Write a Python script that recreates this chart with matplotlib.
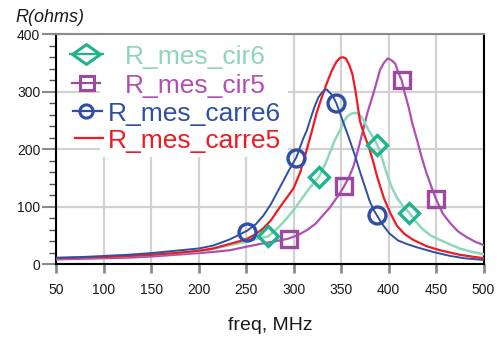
import matplotlib
matplotlib.use('Agg')
import matplotlib.pyplot as plt
from matplotlib.lines import Line2D
from matplotlib.patches import Rectangle
from matplotlib.path import Path
from matplotlib.ticker import MultipleLocator

plt.rcParams['font.family'] = ['Liberation Sans', 'DejaVu Sans']

# ---------------- data ----------------
carre6_f = [50, 75, 100, 125, 150, 175, 200, 215, 233, 251, 260, 268, 276, 286, 295, 303, 310, 314, 318, 322,
            326, 330, 333, 335, 337, 339, 342, 345, 352, 359, 365, 370, 375, 380, 384, 388, 394, 401, 410, 419,
            430, 447, 465, 480, 500]
carre6_v = [11, 12, 14, 16, 19, 23, 27, 32, 43, 58, 69, 84, 104, 135, 163, 186, 218, 233, 254, 274,
            290, 299, 303, 304, 300, 297, 290, 280, 248, 216, 187, 160, 135, 110, 95, 84, 68, 53, 41, 35,
            29, 21, 14, 10, 7]

carre5_f = [50, 75, 100, 125, 150, 175, 200, 215, 233, 250, 260, 268, 276, 286, 293, 300, 307, 314, 319, 324,
            330, 335, 340, 345, 349, 352, 355, 359, 362, 365, 370, 375, 379, 384, 388, 395, 402, 409, 417, 426,
            440, 454, 475, 500]
carre5_v = [10, 11, 12, 14, 16, 19, 23, 27, 35, 43, 52, 62, 76, 100, 116, 132, 160, 200, 230, 262,
            292, 315, 336, 352, 359, 360, 358, 345, 330, 303, 248, 222, 205, 177, 152, 115, 88, 66, 52, 42,
            31, 24, 16, 10]

cir6_f = [50, 75, 100, 125, 150, 175, 200, 215, 233, 250, 262, 273, 283, 291, 300, 307, 314, 320, 327, 333,
          338, 344, 349, 353, 356, 360, 363, 366, 370, 374, 377, 382, 388, 393, 398, 403, 409, 415, 422, 429,
          437, 445, 454, 465, 475, 488, 500]
cir6_v = [10, 11, 12, 14, 16, 19, 22, 26, 33, 39, 44, 48, 62, 76, 94, 110, 126, 139, 153, 173,
          193, 218, 233, 248, 256, 261, 263, 263, 259, 250, 239, 225, 208, 185, 158, 135, 115, 101, 89, 73,
          59, 49, 42, 34, 27, 21, 17]

cir5_f = [50, 75, 100, 125, 150, 175, 200, 215, 233, 250, 268, 282, 294, 304, 314, 323, 331, 338, 344, 349,
          353, 358, 363, 368, 373, 378, 384, 388, 391, 395, 399, 403, 407, 410, 414, 417, 421, 425, 430, 435,
          440, 445, 450, 457, 465, 473, 482, 491, 500]
cir5_v = [8, 9, 10, 11, 13, 16, 19, 21, 24, 30, 36, 40, 44, 50, 59, 70, 85, 98, 112, 124,
          135, 150, 170, 200, 232, 265, 297, 320, 338, 350, 358, 355, 349, 335, 319, 298, 274, 245, 216, 185,
          158, 135, 113, 88, 71, 57, 47, 39, 33]

# marker positions on the curves
carre6_mf = [251, 302, 345, 388]
carre6_mv = [56, 184, 280, 85]
cir5_mf = [295, 353, 414, 450]
cir5_mv = [43, 135, 320, 114]
cir6_mf = [273, 327, 388, 422]
cir6_mv = [48, 152, 208, 89]

names = ['R_mes_cir6', 'R_mes_cir5', 'R_mes_carre6', 'R_mes_carre5']
x_ticks = [50, 100, 150, 200, 250, 300, 350, 400, 450, 500]
y_ticks = [0, 100, 200, 300, 400]

# ---------------- style ----------------
teal_line, teal_mark, teal_text = '#8ed8b9', '#1db38d', '#8ed6b8'
mag_line, mag_mark, mag_text = '#b04fb3', '#9b4a9f', '#b14fb1'
blue = '#2f4fa5'
red = '#ef1b24'

W, H = 497, 338
fig = plt.figure(figsize=(W / 100, H / 100), dpi=100)
ax = fig.add_axes([56.3 / W, 1 - 264 / H, (483.5 - 56.3) / W, (264 - 34.3) / H])

# white box behind the legend (hides grid)
ax.add_patch(Rectangle((100 / W, 1 - 157 / H), (288 - 100) / W, (157 - 34) / H,
                       transform=fig.transFigure, facecolor='white', edgecolor='none', zorder=1))

ax.plot(cir5_f, cir5_v, color=mag_line, lw=1.6, zorder=3)
ax.plot(cir6_f, cir6_v, color=teal_line, lw=1.8, zorder=3)
ax.plot(carre5_f, carre5_v, color=red, lw=1.6, zorder=4)
ax.plot(carre6_f, carre6_v, color=blue, lw=1.4, zorder=5)

ax.plot(cir5_mf, cir5_mv, ls='none', marker='s', ms=11.5, mew=2.4, mfc='none', mec=mag_mark, zorder=6)
ax.plot(cir6_mf, cir6_mv, ls='none', marker='D', ms=10.5, mew=2.4, mfc='none', mec=teal_mark, zorder=6)
ax.plot(carre6_mf, carre6_mv, ls='none', marker='o', ms=12.2, mew=2.4, mfc='none', mec=blue, zorder=6)

ax.set_xlim(50, 500)
ax.set_ylim(0, 400)
ax.set_xticks(x_ticks)
ax.set_yticks(y_ticks)
ax.yaxis.set_minor_locator(MultipleLocator(20))
ax.grid(True, which='major', color='#d2d2d2', linewidth=1.6)
ax.set_axisbelow(True)

ax.tick_params(axis='x', which='major', direction='out', length=6.5, width=2, color='#8a8a8a',
               pad=7, labelsize=10, labelcolor='#1a1a1a')
ax.tick_params(axis='y', which='major', direction='out', length=10, width=1.5, color='#8a8a8a',
               pad=1.5, labelsize=10, labelcolor='#1a1a1a')
ax.tick_params(axis='y', which='minor', direction='out', length=5, width=1, color='#555555')

for s in ['left', 'bottom', 'right']:
    ax.spines[s].set_color('black')
    ax.spines[s].set_linewidth(1.5)
ax.spines['top'].set_color('#8c8c8c')
ax.spines['top'].set_linewidth(1.5)

# axis titles
fig.text(15 / W, 1 - 17 / H, 'R(ohms)', style='italic', fontsize=13, ha='left', va='center', color='#1a1a1a')
fig.text(270 / W, 1 - 330 / H, 'freq, MHz', fontsize=14, ha='center', va='baseline', color='#1a1a1a')

# legend drawn manually
diamond_wide = Path([(-1.4, 0), (0, 1.0), (1.4, 0), (0, -1.0), (-1.4, 0)],
                    [Path.MOVETO, Path.LINETO, Path.LINETO, Path.LINETO, Path.CLOSEPOLY])
entries = [
    # (name, line color, marker, marker size, marker color, text color, x0, x1, xm, text x, baseline y)
    (names[0], teal_mark, diamond_wide, 20, teal_mark, teal_text, 70, 103, 86, 125, 64),
    (names[1], mag_mark, 's', 9.5, mag_mark, mag_text, 72, 100, 87, 125, 93),
    (names[2], blue, 'o', 9.5, blue, blue, 73, 102, 86, 108, 121),
    (names[3], red, None, 0, red, red, 75, 103, 89, 108, 148),
]
for name, lc, mk, msz, mc, tc, x0, x1, xm, xt, yb in entries:
    yc = yb - 10
    fig.add_artist(Line2D([x0 / W, x1 / W], [1 - yc / H, 1 - yc / H], transform=fig.transFigure,
                          color=lc, lw=1.6))
    if mk is not None:
        fig.add_artist(Line2D([xm / W], [1 - yc / H], transform=fig.transFigure, ls='none',
                              marker=mk, ms=msz, mew=2.2, mfc='none', mec=mc))
    fig.text(xt / W, 1 - yb / H, name, fontsize=19, color=tc, ha='left', va='baseline')

fig.savefig('out.png', dpi=100)
